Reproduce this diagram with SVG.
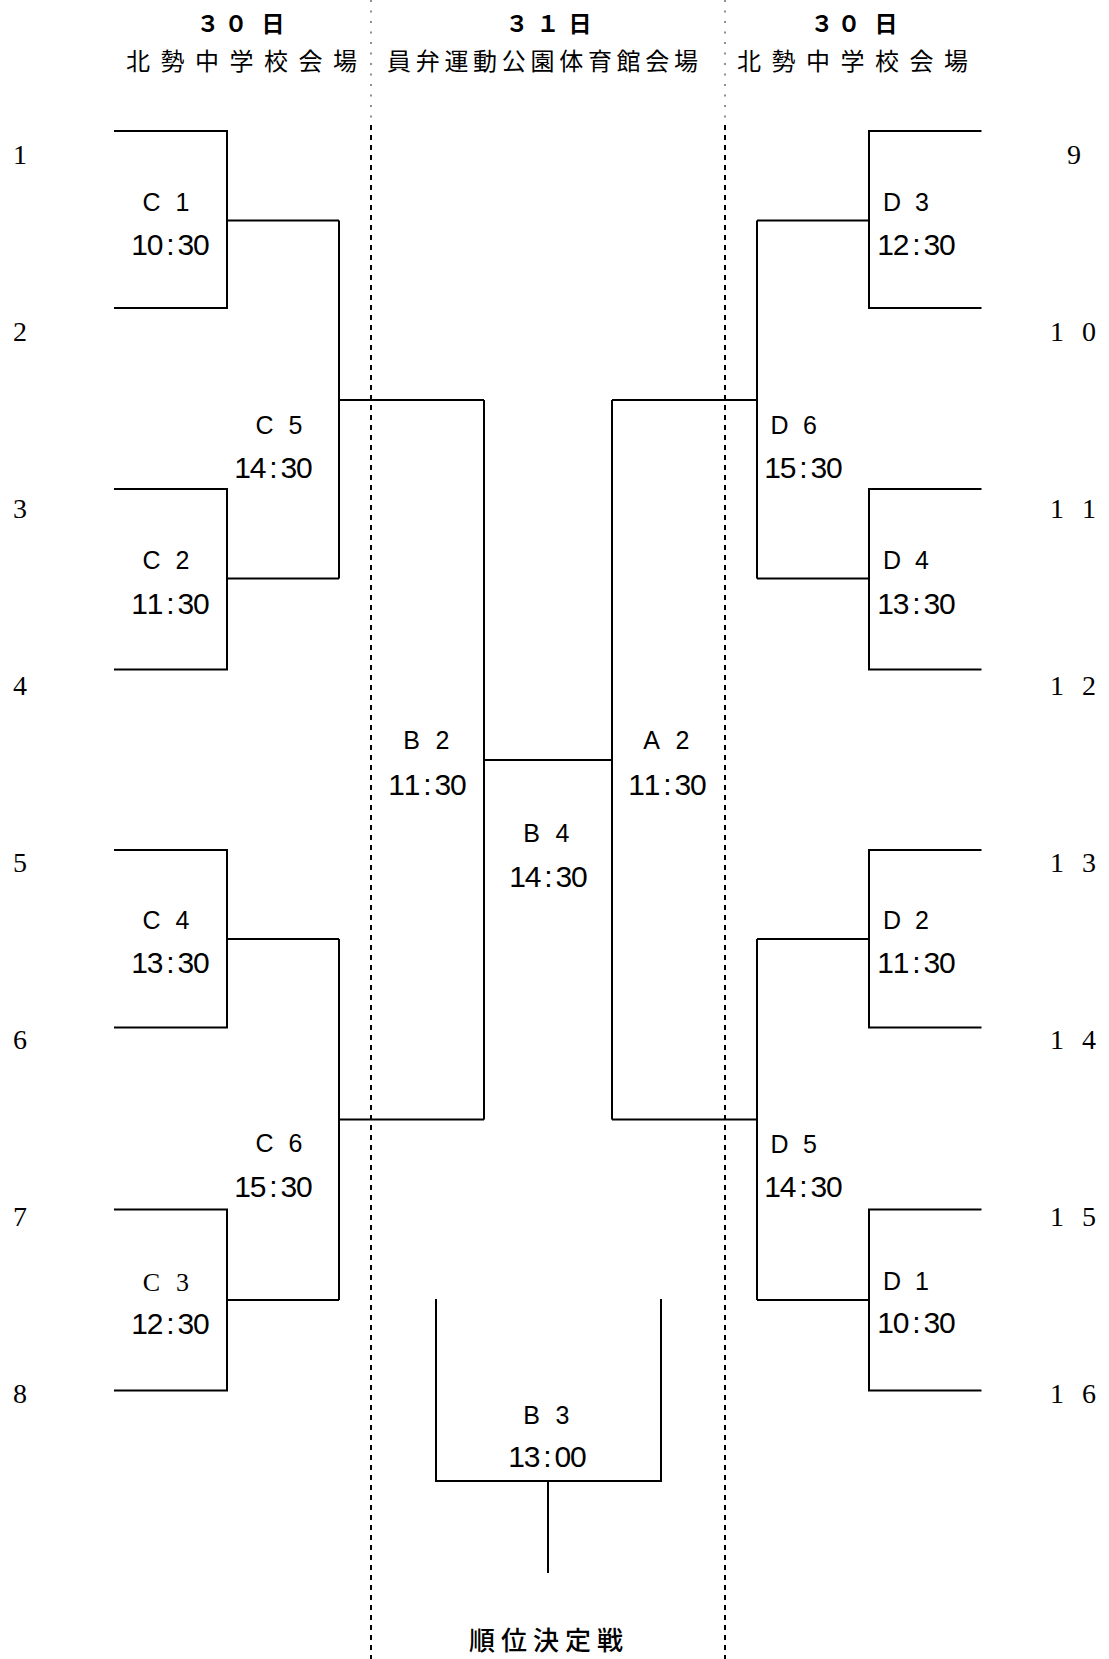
<svg xmlns="http://www.w3.org/2000/svg" width="1109" height="1659" viewBox="0 0 1109 1659">
<style>
.ln{fill:none;stroke:#000;stroke-width:2;stroke-linejoin:miter}
.dot{fill:none;stroke:#555;stroke-width:1.3;stroke-dasharray:2 8.5}
.dash{fill:none;stroke:#000;stroke-width:2;stroke-dasharray:5 5}
.day{font-family:"Noto Sans CJK JP",sans-serif;font-size:23px;font-weight:700;text-anchor:middle;fill:#000}
.venue{font-family:"Noto Sans CJK JP",sans-serif;font-size:24px;fill:#000}
.code{font-family:"Liberation Sans",Arial,sans-serif;font-size:25px;text-anchor:middle;fill:#000}
.codes{font-family:"Liberation Serif","Times New Roman",serif;font-size:26px;text-anchor:middle;fill:#000}
.time{font-family:"Liberation Sans Narrow","Liberation Sans",Arial,sans-serif;font-size:30px;text-anchor:middle;fill:#000}
.num{font-family:"Liberation Serif","Times New Roman",serif;font-size:28px;text-anchor:middle;fill:#000}
.final{font-family:"Noto Sans CJK JP",sans-serif;font-size:26px;font-weight:500;letter-spacing:6px;fill:#000}
</style>
<rect width="1109" height="1659" fill="#fff"/>

<g id="separators">
<path class="dot" d="M371,0 V125 M725,0 V125"/>
<path class="dash" d="M371,125 V1659 M725,125 V1659"/>
</g>

<g id="header-left">
<text class="day" x="208 236 273" y="32">３０日</text>
<text class="venue" x="126" y="70" letter-spacing="10.5">北勢中学校会場</text>
</g>
<g id="header-center">
<text class="day" x="517 548 580" y="32">３１日</text>
<text class="venue" x="387" y="70" letter-spacing="4.7">員弁運動公園体育館会場</text>
</g>
<g id="header-right">
<text class="day" x="822 849 886" y="32">３０日</text>
<text class="venue" x="737" y="70" letter-spacing="10.5">北勢中学校会場</text>
</g>

<g id="connectors">
<path class="ln" d="M114,131 H227 V308 H114 M227,220.5 H339"/>
<path class="ln" d="M114,489 H227 V669.5 H114 M227,578.5 H339"/>
<path class="ln" d="M339,220.5 V578.5 M339,400 H484"/>
<path class="ln" d="M114,850 H227 V1027.5 H114 M227,939 H339"/>
<path class="ln" d="M114,1209.5 H227 V1390.5 H114 M227,1300 H339"/>
<path class="ln" d="M339,939 V1300 M339,1119.5 H484"/>
<path class="ln" d="M484,400 V1119.5 M484,760 H612"/>
<path class="ln" d="M612,400 V1119.5 M612,400 H757 M612,1119.5 H757"/>
<path class="ln" d="M757,220.5 V578.5 M757,220.5 H869 M981.5,131 H869 V308 H981.5"/>
<path class="ln" d="M757,578.5 H869 M981.5,489 H869 V669.5 H981.5"/>
<path class="ln" d="M757,939 V1300 M757,939 H869 M757,1300 H869"/>
<path class="ln" d="M981.5,850 H869 V1027.5 H981.5"/>
<path class="ln" d="M981.5,1209.5 H869 V1390.5 H981.5"/>
<path class="ln" d="M436,1299 V1481 H661 V1299 M548,1481 V1573"/>
</g>

<g id="seeds-left">
<text class="num" x="20" y="164">1</text>
<text class="num" x="20" y="341">2</text>
<text class="num" x="20" y="518">3</text>
<text class="num" x="20" y="695">4</text>
<text class="num" x="20" y="872">5</text>
<text class="num" x="20" y="1049">6</text>
<text class="num" x="20" y="1226">7</text>
<text class="num" x="20" y="1403">8</text>
</g>
<g id="seeds-right">
<text class="num" x="1074" y="164">9</text>
<text class="num" x="1057 1089" y="341">10</text>
<text class="num" x="1057 1089" y="518">11</text>
<text class="num" x="1057 1089" y="695">12</text>
<text class="num" x="1057 1089" y="872">13</text>
<text class="num" x="1057 1089" y="1049">14</text>
<text class="num" x="1057 1089" y="1226">15</text>
<text class="num" x="1057 1089" y="1403">16</text>
</g>

<g id="C1">
<text class="code" x="151.5 182.5" y="211">C1</text>
<text class="time" x="139.7 155.1 170.5 185.9 201.3" y="255">10:30</text>
</g>
<g id="C2">
<text class="code" x="151.5 182.5" y="569">C2</text>
<text class="time" x="139.7 155.1 170.5 185.9 201.3" y="614">11:30</text>
</g>
<g id="C4">
<text class="code" x="151.5 182.5" y="929">C4</text>
<text class="time" x="139.7 155.1 170.5 185.9 201.3" y="973">13:30</text>
</g>
<g id="C3">
<text class="codes" x="151.5 182.5" y="1291">C3</text>
<text class="time" x="139.7 155.1 170.5 185.9 201.3" y="1334">12:30</text>
</g>
<g id="C5">
<text class="code" x="264.5 295.5" y="434">C5</text>
<text class="time" x="242.7 258.1 273.5 288.9 304.3" y="478">14:30</text>
</g>
<g id="C6">
<text class="code" x="264.5 295.5" y="1152">C6</text>
<text class="time" x="242.7 258.1 273.5 288.9 304.3" y="1197">15:30</text>
</g>
<g id="B2">
<text class="code" x="411.5 442.5" y="749">B2</text>
<text class="time" x="396.7 412.1 427.5 442.9 458.3" y="795">11:30</text>
</g>
<g id="A2">
<text class="code" x="651.5 682.5" y="749">A2</text>
<text class="time" x="636.7 652.1 667.5 682.9 698.3" y="795">11:30</text>
</g>
<g id="B4">
<text class="code" x="531.5 562.5" y="842">B4</text>
<text class="time" x="517.7 533.1 548.5 563.9 579.3" y="887">14:30</text>
</g>
<g id="D3">
<text class="code" x="892 922" y="211">D3</text>
<text class="time" x="885.7 901.1 916.5 931.9 947.3" y="255">12:30</text>
</g>
<g id="D4">
<text class="code" x="892 922" y="569">D4</text>
<text class="time" x="885.7 901.1 916.5 931.9 947.3" y="614">13:30</text>
</g>
<g id="D2">
<text class="code" x="892 922" y="929">D2</text>
<text class="time" x="885.7 901.1 916.5 931.9 947.3" y="973">11:30</text>
</g>
<g id="D1">
<text class="code" x="892 922" y="1290">D1</text>
<text class="time" x="885.7 901.1 916.5 931.9 947.3" y="1333">10:30</text>
</g>
<g id="D6">
<text class="code" x="779.5 810" y="434">D6</text>
<text class="time" x="772.7 788.1 803.5 818.9 834.3" y="478">15:30</text>
</g>
<g id="D5">
<text class="code" x="779.5 810" y="1153">D5</text>
<text class="time" x="772.7 788.1 803.5 818.9 834.3" y="1197">14:30</text>
</g>
<g id="B3">
<text class="code" x="531.5 562.5" y="1424">B3</text>
<text class="time" x="516.7 532.1 547.5 562.9 578.3" y="1467">13:00</text>
</g>
<g id="placement-match">
<text class="final" x="469" y="1650">順位決定戦</text>
</g>
</svg>
